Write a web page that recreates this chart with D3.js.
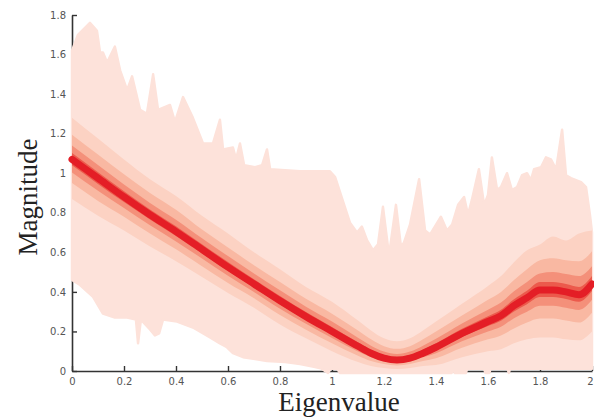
<!DOCTYPE html>
<html>
<head>
<meta charset="utf-8">
<script src="https://cdn.jsdelivr.net/npm/d3@7"></script>
<style>
  html, body { margin: 0; padding: 0; background: #fff; }
  svg { display: block; }
</style>
</head>
<body>
<svg id="chart" width="594" height="417"></svg>
<script>
// ---------- data ----------
const xTicks = [0, 0.2, 0.4, 0.6, 0.8, 1, 1.2, 1.4, 1.6, 1.8, 2];
const yTicks = [0, 0.2, 0.4, 0.6, 0.8, 1, 1.2, 1.4, 1.6, 1.8];

// grid for the quantile bands
const gridX = [0, 0.1, 0.2, 0.3, 0.4, 0.5, 0.6, 0.7, 0.8, 0.9, 1.0, 1.1, 1.15, 1.2, 1.25, 1.3, 1.35, 1.4, 1.5, 1.6, 1.65, 1.7, 1.75, 1.8, 1.85, 1.9, 1.95, 2.0];
const median = [1.07, 0.975, 0.88, 0.79, 0.705, 0.615, 0.525, 0.44, 0.355, 0.275, 0.20, 0.125, 0.09, 0.065, 0.055, 0.065, 0.09, 0.12, 0.19, 0.25, 0.28, 0.33, 0.37, 0.41, 0.41, 0.40, 0.385, 0.44];
const band1Upper = [1.28, 1.175, 1.07, 0.97, 0.885, 0.785, 0.695, 0.60, 0.515, 0.425, 0.35, 0.255, 0.205, 0.165, 0.15, 0.165, 0.205, 0.25, 0.34, 0.43, 0.48, 0.55, 0.61, 0.64, 0.68, 0.66, 0.695, 0.71];
const band1Lower = [0.87, 0.785, 0.71, 0.63, 0.555, 0.475, 0.395, 0.32, 0.235, 0.165, 0.10, 0.045, 0.025, 0.015, 0.01, 0.015, 0.025, 0.03, 0.07, 0.10, 0.11, 0.14, 0.16, 0.17, 0.17, 0.16, 0.155, 0.20];
const band2Upper = [1.195, 1.095, 0.995, 0.90, 0.815, 0.715, 0.625, 0.535, 0.45, 0.365, 0.29, 0.205, 0.16, 0.125, 0.112, 0.125, 0.16, 0.20, 0.28, 0.36, 0.40, 0.46, 0.515, 0.56, 0.57, 0.56, 0.555, 0.605];
const band2Lower = [0.95, 0.86, 0.78, 0.695, 0.615, 0.53, 0.445, 0.368, 0.283, 0.209, 0.14, 0.077, 0.05, 0.035, 0.028, 0.035, 0.05, 0.065, 0.118, 0.16, 0.18, 0.215, 0.245, 0.265, 0.265, 0.255, 0.245, 0.295];
const band3Upper = [1.14, 1.041, 0.943, 0.85, 0.765, 0.671, 0.581, 0.493, 0.408, 0.325, 0.25, 0.168, 0.128, 0.098, 0.086, 0.098, 0.128, 0.163, 0.24, 0.31, 0.346, 0.403, 0.45, 0.493, 0.50, 0.49, 0.48, 0.53];
const band3Lower = [1.004, 0.912, 0.824, 0.737, 0.655, 0.569, 0.482, 0.40, 0.315, 0.239, 0.167, 0.099, 0.069, 0.048, 0.04, 0.048, 0.069, 0.09, 0.15, 0.20, 0.224, 0.267, 0.30, 0.33, 0.33, 0.32, 0.309, 0.36];
const band4Upper = [1.102, 1.005, 0.909, 0.817, 0.732, 0.641, 0.551, 0.464, 0.379, 0.298, 0.223, 0.145, 0.108, 0.081, 0.07, 0.081, 0.108, 0.14, 0.213, 0.277, 0.31, 0.363, 0.406, 0.45, 0.45, 0.44, 0.425, 0.48];
const band4Lower = [1.04, 0.946, 0.854, 0.766, 0.682, 0.594, 0.505, 0.422, 0.337, 0.258, 0.185, 0.113, 0.08, 0.057, 0.048, 0.057, 0.08, 0.106, 0.172, 0.227, 0.254, 0.301, 0.338, 0.374, 0.374, 0.364, 0.35, 0.404];

// outer envelope (min / max)
const maxX = [0, 0.023, 0.069, 0.096, 0.108, 0.119, 0.135, 0.165, 0.185, 0.212, 0.231, 0.262, 0.288, 0.312, 0.331, 0.377, 0.396, 0.427, 0.465, 0.504, 0.542, 0.569, 0.581, 0.619, 0.631, 0.646, 0.662, 0.704, 0.731, 0.75, 0.762, 0.877, 0.992, 1.012, 1.069, 1.096, 1.115, 1.135, 1.158, 1.177, 1.196, 1.215, 1.223, 1.246, 1.265, 1.277, 1.30, 1.335, 1.358, 1.377, 1.419, 1.442, 1.462, 1.485, 1.508, 1.523, 1.538, 1.565, 1.585, 1.60, 1.615, 1.635, 1.65, 1.673, 1.692, 1.712, 1.731, 1.75, 1.765, 1.777, 1.804, 1.823, 1.842, 1.862, 1.885, 1.90, 1.919, 1.958, 1.977, 1.992, 2.0];
const maxY = [1.62, 1.70, 1.76, 1.72, 1.61, 1.61, 1.56, 1.64, 1.52, 1.42, 1.49, 1.32, 1.30, 1.50, 1.32, 1.345, 1.26, 1.385, 1.28, 1.15, 1.15, 1.27, 1.12, 1.13, 1.07, 1.15, 1.04, 1.03, 1.04, 1.12, 1.02, 1.01, 1.01, 0.98, 0.75, 0.70, 0.73, 0.66, 0.61, 0.64, 0.83, 0.63, 0.62, 0.84, 0.63, 0.65, 0.74, 0.97, 0.71, 0.69, 0.78, 0.71, 0.74, 0.84, 0.88, 0.79, 0.865, 1.02, 0.84, 0.89, 1.08, 0.915, 0.93, 1.00, 0.915, 0.93, 0.99, 1.00, 0.965, 1.02, 1.03, 1.08, 1.07, 1.02, 1.22, 0.99, 0.975, 0.955, 0.93, 0.79, 0.70];
const minX = [0, 0.031, 0.081, 0.119, 0.165, 0.212, 0.246, 0.254, 0.265, 0.30, 0.319, 0.335, 0.35, 0.404, 0.465, 0.531, 0.569, 0.596, 0.619, 0.658, 0.704, 0.75, 0.82, 0.877, 0.935, 0.96, 0.985, 0.995, 1.02, 1.03, 1.46, 1.468, 1.472, 1.515, 1.52, 1.585, 1.59, 1.605, 1.61, 1.675, 1.68, 1.685, 2.0];
const minY = [0.46, 0.435, 0.375, 0.29, 0.27, 0.27, 0.26, 0.14, 0.26, 0.21, 0.18, 0.19, 0.26, 0.25, 0.22, 0.17, 0.14, 0.12, 0.09, 0.07, 0.06, 0.05, 0.045, 0.035, 0.02, 0.012, -0.01, 0.012, 0.012, -0.01, -0.01, 0.012, -0.01, -0.01, 0.012, 0.012, -0.01, -0.01, 0.012, 0.012, -0.01, 0.012, 0.012];

// ---------- layout ----------
const svg = d3.select("#chart");
const x = d3.scaleLinear().domain([0, 2]).range([72, 592]);
const y = d3.scaleLinear().domain([0, 1.8]).range([371, 15]);

const fmt = d => String(+d.toFixed(1));

// axes first (the fills cover them)
const axisColor = "#333";
const gx = svg.append("g").attr("transform", `translate(0,${y(0)})`)
  .call(d3.axisBottom(x).tickValues(xTicks).tickSizeInner(-5).tickSizeOuter(0).tickPadding(7).tickFormat(fmt));
const gy = svg.append("g").attr("transform", `translate(${x(0)},0)`)
  .call(d3.axisLeft(y).tickValues(yTicks).tickSizeInner(-5).tickSizeOuter(0).tickPadding(6).tickFormat(fmt));
[gx, gy].forEach(g => {
  g.select(".domain").attr("stroke", axisColor).attr("stroke-width", 1.6);
  g.selectAll(".tick line").attr("stroke", axisColor).attr("stroke-width", 1.4);
  g.selectAll(".tick text").attr("fill", "#555").attr("font-family", "DejaVu Sans, sans-serif").attr("font-size", 10);
});
// keep the last x label inside the window
gx.selectAll(".tick text").filter(d => d === 2).attr("dx", -2);

// outer envelope
const maxPts = maxX.map((v, i) => [v, maxY[i]]);
const minPts = minX.map((v, i) => [v, minY[i]]);
const outerPath = d3.line().x(d => x(d[0])).y(d => y(d[1]));
const outerD = outerPath(maxPts.concat(minPts.slice().reverse())) + "Z";
svg.append("path").attr("d", outerD)
  .attr("fill", "#fde2da").attr("stroke", "#fde2da").attr("stroke-width", 2.5).attr("stroke-linejoin", "round");

// quantile bands
const bands = [
  { up: band1Upper, lo: band1Lower, color: "#fcd2c3" },
  { up: band2Upper, lo: band2Lower, color: "#f9b8a2" },
  { up: band3Upper, lo: band3Lower, color: "#f4907a" },
  { up: band4Upper, lo: band4Lower, color: "#ec5a4c" }
];
const area = d3.area().curve(d3.curveMonotoneX)
  .x(d => x(d.x)).y0(d => y(d.lo)).y1(d => y(d.up));
bands.forEach(b => {
  const pts = gridX.map((v, i) => ({ x: v, up: b.up[i], lo: b.lo[i] }));
  svg.append("path").attr("d", area(pts)).attr("fill", b.color);
});

// median
const medLine = d3.line().curve(d3.curveMonotoneX).x(d => x(d[0])).y(d => y(d[1]));
svg.append("path").attr("d", medLine(gridX.map((v, i) => [v, median[i]])))
  .attr("fill", "none").attr("stroke", "#e41e26").attr("stroke-width", 7).attr("stroke-linecap", "round").attr("stroke-linejoin", "round");

// tick labels on top (moved out of the axis groups so fills never hide them)
const labelLayer = svg.append("g");
[gx, gy].forEach(g => {
  const axisTr = g.attr("transform");
  g.selectAll(".tick").each(function () {
    const tickTr = this.getAttribute("transform");
    const t = d3.select(this).select("text").node();
    labelLayer.append("g").attr("transform", axisTr)
      .append("g").attr("transform", tickTr)
      .attr("text-anchor", g === gy ? "end" : "middle")
      .node().appendChild(t);
  });
});

// axis titles
svg.append("text").attr("x", 339).attr("y", 411).attr("text-anchor", "middle")
  .attr("font-family", "Liberation Serif, serif").attr("font-size", 27).attr("fill", "#222")
  .text("Eigenvalue");
svg.append("text").attr("transform", "translate(37,197) rotate(-90)").attr("text-anchor", "middle")
  .attr("font-family", "Liberation Serif, serif").attr("font-size", 27).attr("fill", "#222")
  .text("Magnitude");
</script>
</body>
</html>
